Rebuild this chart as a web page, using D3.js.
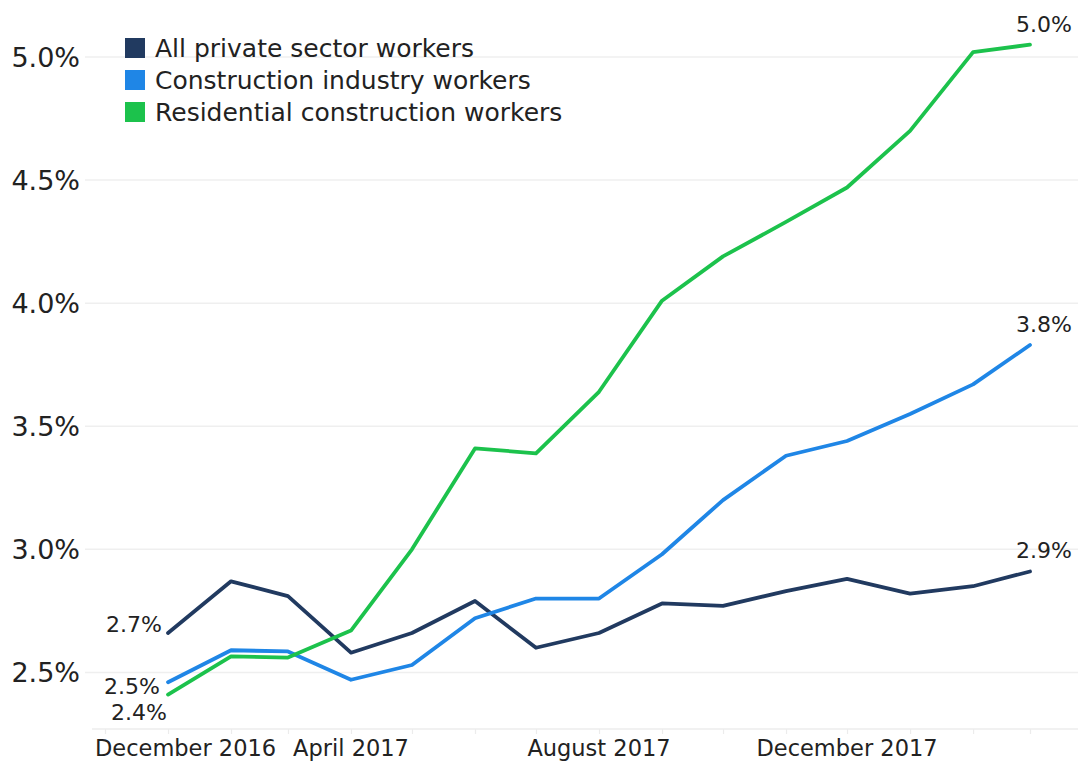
<!DOCTYPE html>
<html>
<head>
<meta charset="utf-8">
<script src="https://cdn.jsdelivr.net/npm/d3@7"></script>
<style>
  html, body { margin: 0; padding: 0; background: #fff; }
  svg { display: block; font-family: "DejaVu Sans", "Open Sans", sans-serif; }
</style>
</head>
<body>
<svg id="chart" width="1078" height="762"></svg>
<script>
// Year-over-year wage growth, monthly, Jan 2017 – Mar 2018
const months = [
  "2017-01", "2017-02", "2017-03", "2017-04", "2017-05", "2017-06", "2017-07",
  "2017-08", "2017-09", "2017-10", "2017-11", "2017-12", "2018-01", "2018-02", "2018-03"
];
const seriesNames = ["All private sector workers", "Construction industry workers", "Residential construction workers"];
const privateSector = [2.66, 2.87, 2.81, 2.58, 2.66, 2.79, 2.60, 2.66, 2.78, 2.77, 2.83, 2.88, 2.82, 2.85, 2.91];
const construction  = [2.46, 2.59, 2.585, 2.47, 2.53, 2.72, 2.80, 2.80, 2.98, 3.20, 3.38, 3.44, 3.55, 3.67, 3.83];
const residential   = [2.41, 2.565, 2.56, 2.67, 3.00, 3.41, 3.39, 3.64, 4.01, 4.19, 4.33, 4.47, 4.70, 5.02, 5.05];
const startLabels = ["2.7%", "2.5%", "2.4%"];
const endLabels   = ["2.9%", "3.8%", "5.0%"];
const yTicks = [2.5, 3.0, 3.5, 4.0, 4.5, 5.0];
const xTickMonths = ["2016-12", "2017-04", "2017-08", "2017-12"];
const xTickLabels = ["December 2016", "April 2017", "August 2017", "December 2017"];
const colors = ["#213a60", "#1f86e6", "#1cc24c"];

const parse = d3.timeParse("%Y-%m");
const dates = months.map(parse);
const series = [privateSector, construction, residential].map((vals, i) => ({
  name: seriesNames[i],
  color: colors[i],
  start: startLabels[i],
  end: endLabels[i],
  points: vals.map((v, j) => ({ date: dates[j], value: v }))
}));

const svg = d3.select("#chart");
const plotLeft = 88, plotRight = 1078, plotBottom = 729;

const x = d3.scaleTime()
  .domain([parse("2016-12"), parse("2018-03")])
  .range([105, 1030]);
const y = d3.scaleLinear()
  .domain([2.27, 5.1])
  .range([plotBottom, 32.4]);

// horizontal gridlines
svg.append("g")
  .selectAll("line")
  .data(yTicks)
  .join("line")
  .attr("x1", plotLeft - 3).attr("x2", plotRight)
  .attr("y1", d => y(d)).attr("y2", d => y(d))
  .attr("stroke", "#efefef").attr("stroke-width", 1.5);

// y-axis labels
svg.append("g")
  .selectAll("text")
  .data(yTicks)
  .join("text")
  .attr("x", 80)
  .attr("y", d => y(d))
  .attr("dy", "0.36em")
  .attr("text-anchor", "end")
  .attr("font-size", 27)
  .attr("fill", "#222")
  .text(d => d3.format(".1f")(d) + "%");

// x baseline with monthly ticks
const xAxis = d3.axisBottom(x)
  .ticks(d3.timeMonth.every(1))
  .tickSize(5)
  .tickFormat("");
const gx = svg.append("g")
  .attr("transform", `translate(0,${plotBottom})`)
  .call(xAxis);
gx.select(".domain").remove();
gx.selectAll(".tick line").attr("stroke", "#ececec").attr("stroke-width", 1.2);
svg.append("line")
  .attr("x1", plotLeft + 4).attr("x2", plotRight)
  .attr("y1", plotBottom).attr("y2", plotBottom)
  .attr("stroke", "#ececec").attr("stroke-width", 1.5);

// x labels (first label kept inside the chart)
svg.append("g")
  .selectAll("text")
  .data(xTickMonths)
  .join("text")
  .attr("x", (d, i) => i === 0 ? x(parse(d)) - 10 : x(parse(d)))
  .attr("y", 756)
  .attr("text-anchor", (d, i) => i === 0 ? "start" : "middle")
  .attr("font-size", 22.5)
  .attr("fill", "#222")
  .text((d, i) => xTickLabels[i]);

// lines
const line = d3.line()
  .x(d => x(d.date))
  .y(d => y(d.value));

svg.append("g")
  .selectAll("path")
  .data(series)
  .join("path")
  .attr("d", d => line(d.points))
  .attr("fill", "none")
  .attr("stroke", d => d.color)
  .attr("stroke-width", 3.8)
  .attr("stroke-linejoin", "round")
  .attr("stroke-linecap", "round");

// start-value labels
const startOffsets = [{ dx: -6, dy: -1 }, { dx: -8, dy: 12 }, { dx: -1, dy: 25 }];
svg.append("g")
  .selectAll("text")
  .data(series)
  .join("text")
  .attr("x", (d, i) => x(d.points[0].date) + startOffsets[i].dx)
  .attr("y", (d, i) => y(d.points[0].value) + startOffsets[i].dy)
  .attr("text-anchor", "end")
  .attr("font-size", 22)
  .attr("fill", "#222")
  .text(d => d.start);

// end-value labels
svg.append("g")
  .selectAll("text")
  .data(series)
  .join("text")
  .attr("x", d => x(d.points[d.points.length - 1].date) + 14)
  .attr("y", d => y(d.points[d.points.length - 1].value) - 13)
  .attr("text-anchor", "middle")
  .attr("font-size", 22)
  .attr("fill", "#222")
  .text(d => d.end);

// legend
const legend = svg.append("g")
  .selectAll("g")
  .data(series)
  .join("g")
  .attr("transform", (d, i) => `translate(125,${48 + i * 32})`);
legend.append("rect")
  .attr("x", 0).attr("y", -10)
  .attr("width", 20).attr("height", 20)
  .attr("fill", d => d.color);
legend.append("text")
  .attr("x", 30).attr("y", 0)
  .attr("dy", "0.36em")
  .attr("font-size", 25)
  .attr("fill", "#222")
  .text(d => d.name);
</script>
</body>
</html>
